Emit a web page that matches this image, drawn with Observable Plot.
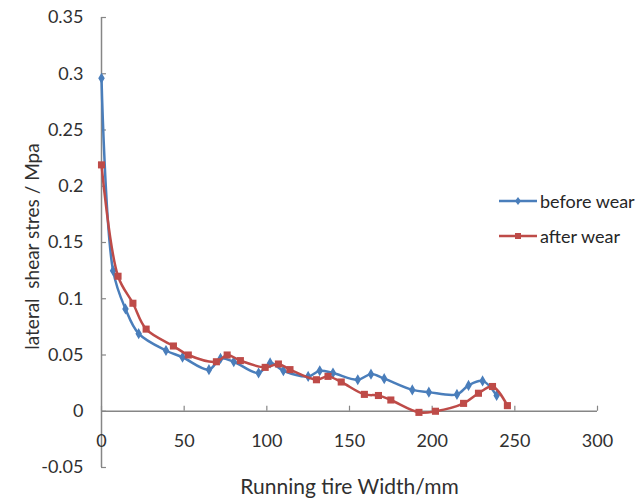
<!DOCTYPE html>
<html>
<head>
<meta charset="utf-8">
<script src="https://cdn.jsdelivr.net/npm/d3@7"></script>
<script src="https://cdn.jsdelivr.net/npm/@observablehq/plot@0.6"></script>
<style>
  body { margin: 0; background: #fff; }
  #wrap { position: relative; width: 637px; height: 502px; font-family: Lato, "Open Sans", sans-serif; }
  #wrap svg text { white-space: pre; }
  .legend { position: absolute; left: 499px; top: 189px; font-size: 18px; color: #262626; }
  .legend .item { display: flex; align-items: center; height: 24px; margin-bottom: 11px; }
  .legend svg { margin-right: 3px; }
</style>
</head>
<body>
<div id="wrap"></div>
<script>
const xTicks = [0, 50, 100, 150, 200, 250, 300];
const yTicks = [-0.05, 0, 0.05, 0.1, 0.15, 0.2, 0.25, 0.3, 0.35];
const seriesNames = ["before wear", "after wear"];
const seriesColors = ["#4a7ebb", "#be4b48"];

const beforeX = [0, 7, 14.5, 22.5, 39, 49, 65, 72, 80, 95, 102, 110, 125, 132, 140, 155, 163, 171, 188, 198, 215, 222, 230.5, 239];
const beforeY = [0.296, 0.125, 0.091, 0.069, 0.054, 0.048, 0.037, 0.047, 0.044, 0.034, 0.043, 0.036, 0.031, 0.036, 0.034, 0.028, 0.033, 0.029, 0.019, 0.017, 0.015, 0.023, 0.027, 0.014];

const afterX = [0, 10, 19, 27, 43.5, 52.5, 69.5, 76, 84, 99, 107, 114, 130, 137, 145, 159, 167.5, 175, 192, 202, 219, 228, 236.5, 245.5];
const afterY = [0.219, 0.120, 0.096, 0.073, 0.058, 0.050, 0.044, 0.050, 0.045, 0.039, 0.042, 0.037, 0.028, 0.031, 0.026, 0.015, 0.014, 0.010, -0.001, 0.000, 0.007, 0.016, 0.022, 0.005];

const before = beforeX.map((x, i) => ({x, y: beforeY[i]}));
const after = afterX.map((x, i) => ({x, y: afterY[i]}));

const axisColor = "#868686";

const chart = Plot.plot({
  width: 637,
  height: 502,
  marginLeft: 101,
  marginRight: 40,
  marginTop: 17,
  marginBottom: 35,
  style: {fontFamily: "Lato, 'Open Sans', sans-serif", fontSize: "18px", color: "#303030", background: "white"},
  x: {domain: [0, 300]},
  y: {domain: [-0.05, 0.35]},
  marks: [
    Plot.ruleX([0], {stroke: axisColor, strokeWidth: 1.5}),
    Plot.ruleY([0], {stroke: axisColor, strokeWidth: 1.5}),
    Plot.ruleY(yTicks, {x1: 0, x2: 3, stroke: axisColor, strokeWidth: 1.2}),
    Plot.ruleX(xTicks, {y1: 0, y2: 0.0045, stroke: axisColor, strokeWidth: 1.2}),
    Plot.axisY(yTicks, {tickSize: 0, tickPadding: 18, tickFormat: d => String(+d.toFixed(2)), label: null, fontSize: 18}),
    Plot.axisX(xTicks, {tickSize: 0, dy: -42, label: null, fontSize: 18}),
    Plot.text(["Running tire Width/mm"], {frameAnchor: "bottom", dy: 26, fontSize: 21}),
    Plot.text(["lateral  shear stres / Mpa"], {frameAnchor: "left", textAnchor: "middle", rotate: -90, dx: -69, dy: 4, fontSize: 19}),
    Plot.line(before, {x: "x", y: "y", stroke: seriesColors[0], strokeWidth: 2.5, curve: "catmull-rom"}),
    Plot.dot(before, {x: "x", y: "y", symbol: "diamond", r: 2.5, fill: seriesColors[0], stroke: seriesColors[0]}),
    Plot.line(after, {x: "x", y: "y", stroke: seriesColors[1], strokeWidth: 2.5, curve: "catmull-rom"}),
    Plot.dot(after, {x: "x", y: "y", symbol: "square", r: 4, fill: seriesColors[1]})
  ]
});

const wrap = document.getElementById("wrap");
wrap.appendChild(chart);

const legend = document.createElement("div");
legend.className = "legend";
seriesNames.forEach((name, i) => {
  const item = document.createElement("div");
  item.className = "item";
  const marker = i === 0
    ? `<path d="M19,2 L22,6 L19,10 L16,6 Z" fill="${seriesColors[i]}"/>`
    : `<rect x="16" y="3" width="6" height="6" fill="${seriesColors[i]}"/>`;
  item.innerHTML = `<svg width="38" height="12"><line x1="0" x2="38" y1="6" y2="6" stroke="${seriesColors[i]}" stroke-width="2.5"/>${marker}</svg><span>${name}</span>`;
  legend.appendChild(item);
});
wrap.appendChild(legend);
</script>
</body>
</html>
